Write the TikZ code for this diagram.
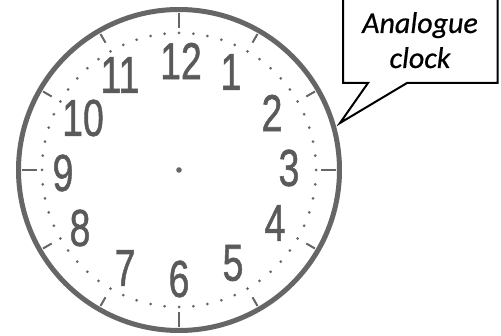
\documentclass[tikz,border=0pt]{standalone}
\usepackage{fontspec}
\usetikzlibrary{calc}
\setmainfont{Liberation Sans}
\newfontfamily\numfont[FakeBold=1.2]{Liberation Sans}
\newfontfamily\calloutfont[FakeBold=0.6]{Carlito}
\definecolor{clockgray}{HTML}{666666}
\definecolor{numgray}{HTML}{5A5A5A}
\newcommand{\clocknum}[1]{\scalebox{0.72}[1]{#1}}
\begin{document}
\begin{tikzpicture}[x=1pt,y=1pt,
  rim/.style={draw=clockgray,line width=5pt},
  hourtick/.style={draw=clockgray,line width=2pt},
  minutedot/.style={fill=clockgray},
  numeral/.style={text=numgray,font=\numfont\fontsize{52}{52}\selectfont,inner sep=0pt},
  callout/.style={draw=black,line width=2pt,fill=white,line join=miter},
  callouttext/.style={font=\calloutfont\itshape\fontsize{30}{30}\selectfont,anchor=base,inner sep=0pt}]
\useasboundingbox (0,0) rectangle (501,335);
\coordinate (C) at (179,165);
% rim
\draw[rim] (C) circle (160.5);
% minute dots
\foreach \m in {0,...,59}{
  \fill[minutedot] ($(C)+(\m*6:137)$) circle (1.5);
}
% hour ticks
\foreach \h in {0,30,...,330}{
  \draw[hourtick] ($(C)+(\h:157)$) -- ($(C)+(\h:147)$);
}
\foreach \h in {0,90,180,270}{
  \draw[hourtick] ($(C)+(\h:157)$) -- ($(C)+(\h:142)$);
}
% centre
\fill[clockgray] (C) circle (2.8);
% numerals
\node[numeral] (n12) at (181,274) {\clocknum{12}};
\node[numeral] (n1) at (231,263) {\clocknum{1}};
\node[numeral] (n2) at (272,222) {\clocknum{2}};
\node[numeral] (n3) at (289,167) {\clocknum{3}};
\node[numeral] (n4) at (275,112) {\clocknum{4}};
\node[numeral] (n5) at (233,72) {\clocknum{5}};
\node[numeral] (n6) at (179,56) {\clocknum{6}};
\node[numeral] (n7) at (125,67) {\clocknum{7}};
\node[numeral] (n8) at (80,107) {\clocknum{8}};
\node[numeral] (n9) at (63,162) {\clocknum{9}};
\node[numeral] (n10) at (83,217) {\clocknum{10}};
\node[numeral] (n11) at (120,260) {\clocknum{11}};
% callout
\coordinate (tip) at (340,212);
\draw[callout] (343,345) -- (343,252) -- (368,252) -- (tip) -- (407,252) -- (497.5,252) -- (497.5,345);
\node[callouttext] (t1) at (420,302) {Analogue};
\node[callouttext] (t2) at (420,267) {clock};
\end{tikzpicture}
\end{document}
